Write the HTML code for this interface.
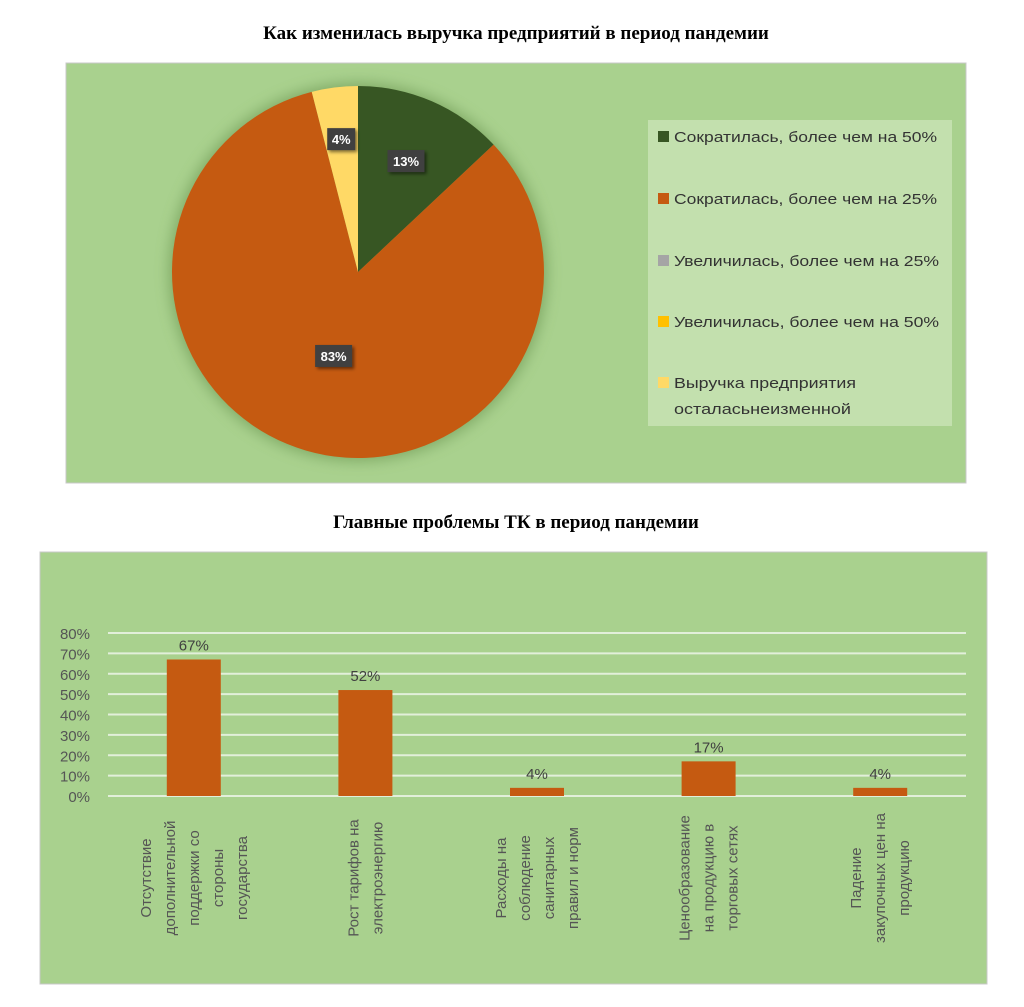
<!DOCTYPE html>
<html><head><meta charset="utf-8"><style>
html,body{margin:0;padding:0;background:#fff;}
svg{display:block;font-family:"Liberation Sans",sans-serif;}
</style></head><body>
<svg width="1024" height="1007" viewBox="0 0 1024 1007" xmlns="http://www.w3.org/2000/svg">
<defs>
<filter id="glow" x="-20%" y="-20%" width="140%" height="140%"><feGaussianBlur stdDeviation="7"/></filter>
<filter id="sh" x="-30%" y="-30%" width="160%" height="160%"><feDropShadow dx="2" dy="2" stdDeviation="1.5" flood-opacity="0.5"/></filter>
</defs>
<text x="516" y="39" text-anchor="middle" font-family="Liberation Serif, serif" font-weight="bold" font-size="19" fill="#000">Как изменилась выручка предприятий в период пандемии</text>
<rect x="66" y="63" width="900" height="420" fill="#A9D18E" stroke="#c8c8c8"/>
<g id="pie"></g>
<g id="legend">
<rect x="648" y="120" width="304" height="306" fill="#C3E0AE"/>
</g>
<text x="516" y="528" text-anchor="middle" font-family="Liberation Serif, serif" font-weight="bold" font-size="19" fill="#000">Главные проблемы ТК в период пандемии</text>
<rect x="40" y="552" width="947" height="432" fill="#A9D18E" stroke="#c8c8c8"/>
<g id="bars"></g>
</svg>
<script>
// Pie data
const pieCategories = ["Сократилась, более чем на 50%","Сократилась, более чем на 25%","Увеличилась, более чем на 25%","Увеличилась, более чем на 50%","Выручка предприятия осталасьнеизменной"];
const pieValues = [13, 83, 0, 0, 4];
const pieLabels = ["13%","83%","","","4%"];
// Bar data
const barCategories = [
 ["Отсутствие","дополнительной","поддержки со","стороны","государства"],
 ["Рост тарифов на","электроэнергию"],
 ["Расходы на","соблюдение","санитарных","правил и норм"],
 ["Ценообразование","на продукцию в","торговых сетях"],
 ["Падение","закупочных цен на","продукцию"]
];
const barValues = [67, 52, 4, 17, 4];
const barLabels = ["67%","52%","4%","17%","4%"];
const yTicks = [0,10,20,30,40,50,60,70,80];

const NS = "http://www.w3.org/2000/svg";
function mk(tag, attrs, parent, txt){
  const e = document.createElementNS(NS, tag);
  for (const k in attrs) e.setAttribute(k, attrs[k]);
  if (txt !== undefined) e.textContent = txt;
  parent.appendChild(e);
  return e;
}
const colors = ["#375623","#C55A11","#A5A5A5","#FFC000","#FFD966"];

// PIE
const pie = document.getElementById("pie");
const cx = 358, cy = 272, r = 186;
const glow = mk("circle", {cx:cx, cy:cy, r:r+3, fill:"#5f8a45", opacity:"0.55", filter:"url(#glow)"}, pie);


const total = pieValues.reduce((a,b)=>a+b,0);
let ang = -Math.PI/2;
const labelPos = [];
pieValues.forEach((v,i)=>{
  const sweep = v/total*2*Math.PI;
  if (v > 0) {
    const a0 = ang, a1 = ang + sweep;
    const x0 = cx + r*Math.cos(a0), y0 = cy + r*Math.sin(a0);
    const x1 = cx + r*Math.cos(a1), y1 = cy + r*Math.sin(a1);
    const large = sweep > Math.PI ? 1 : 0;
    const p = mk("path", {d:`M${cx},${cy} L${x0},${y0} A${r},${r} 0 ${large} 1 ${x1},${y1} Z`, fill:colors[i]}, pie);
    
    
    const mid = (a0+a1)/2;
    const lr = v < 10 ? r*0.72 : (v > 50 ? r*0.47 : r*0.65);
    labelPos.push([i, cx + lr*Math.cos(mid), cy + lr*Math.sin(mid)]);
  }
  ang += sweep;
});
labelPos.forEach(([i,x,y])=>{
  const t = pieLabels[i];
  const w = t.length*9 + 10;
  const b = mk("rect", {x:x-w/2, y:y-11, width:w, height:22, fill:"#404040", filter:"url(#sh)"}, pie);
  
  
  const tx = mk("text", {x:x, y:y+5, "text-anchor":"middle", "font-size":"13", "font-weight":"bold", fill:"#fff"}, pie, t);
  
  
});

// LEGEND
const lg = document.getElementById("legend");
const legY = [137, 199, 261, 322, 383];
const legW = [263, 263, 265, 265, 0];
pieCategories.forEach((c,i)=>{
  const y = legY[i];
  const m = mk("rect", {x:658, y:y-6, width:11, height:11, fill:colors[i]}, lg);
  
  
  if (i < 4) {
    const t = mk("text", {x:674, y:y+5, "font-size":"15", fill:"#333", textLength:legW[i], lengthAdjust:"spacingAndGlyphs"}, lg, c);
    
    
  } else {
    const t = mk("text", {x:674, y:y+5, "font-size":"15", fill:"#333"}, lg);
    
    
    mk("tspan", {x:674, textLength:182, lengthAdjust:"spacingAndGlyphs"}, t, "Выручка предприятия");
    mk("tspan", {x:674, dy:"26", textLength:177, lengthAdjust:"spacingAndGlyphs"}, t, "осталасьнеизменной");
  }
});

// BARS
const bg = document.getElementById("bars");
const y0px = 796, pxPer = (796-633)/80;
const yScale = v => y0px - v*pxPer;
const xL = 108, xR = 966, slot = (xR - xL)/barValues.length;
const xCenter = i => xL + slot*(i+0.5);
yTicks.forEach(t=>{
  const y = yScale(t);
  const g = mk("line", {x1:xL, x2:xR, y1:y, y2:y, stroke:"#E2EFDA", "stroke-width":"2"}, bg);
  
  
  const l = mk("text", {x:90, y:y+6, "text-anchor":"end", "font-size":"15", fill:"#555"}, bg, t + "%");
  
  
});
const bw = 54;
barValues.forEach((v,i)=>{
  const x = xCenter(i);
  const b = mk("rect", {x:x-bw/2, y:yScale(v), width:bw, height:y0px-yScale(v), fill:"#C55A11"}, bg);
  
  
  const l = mk("text", {x:x, y:yScale(v)-9, "text-anchor":"middle", "font-size":"15", fill:"#404040"}, bg, barLabels[i]);
  
  
  const lines = barCategories[i];
  const n = lines.length, sp = 24;
  lines.forEach((s,j)=>{
    const lx = x + (j - (n-1)/2)*sp + 5;
    const t = mk("text", {x:0, y:0, "text-anchor":"middle", "font-size":"15", fill:"#555", transform:`translate(${lx},878) rotate(-90)`}, bg, s);
    
    
  });
});
</script>
</body></html>
